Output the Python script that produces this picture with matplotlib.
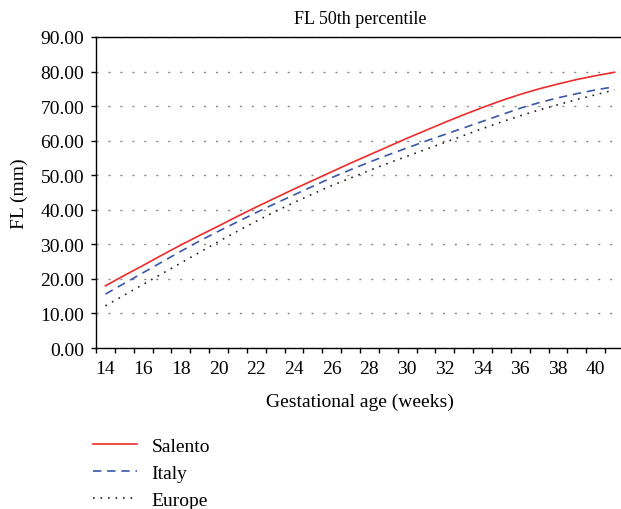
import matplotlib
matplotlib.use("Agg")
import matplotlib.pyplot as plt
from matplotlib.ticker import FixedLocator, FuncFormatter

plt.rcParams['font.family'] = ['Liberation Serif', 'DejaVu Serif']

weeks = list(range(14, 42))
salento = [18.0, 21.0, 23.9, 26.9, 29.8, 32.6, 35.3, 38.1, 40.8, 43.4,
           46.0, 48.5, 51.0, 53.5, 55.9, 58.3, 60.7, 63.0, 65.3, 67.5,
           69.6, 71.6, 73.4, 75.0, 76.4, 77.7, 78.8, 79.8]
italy = [15.6, 18.7, 21.8, 24.9, 28.0, 31.0, 33.8, 36.5, 39.2, 41.8,
         44.3, 46.8, 49.3, 51.6, 53.8, 55.9, 57.9, 59.9, 61.8, 63.7,
         65.6, 67.5, 69.4, 71.0, 72.4, 73.6, 74.7, 75.6]
europe = [12.2, 15.3, 18.4, 21.5, 24.6, 27.7, 30.8, 33.8, 36.7, 39.5,
          42.1, 44.6, 47.0, 49.2, 51.4, 53.5, 55.5, 57.5, 59.5, 61.5,
          63.5, 65.4, 67.2, 68.9, 70.4, 71.9, 73.3, 74.7]
y_ticks = [0, 10, 20, 30, 40, 50, 60, 70, 80, 90]
x_labels = list(range(14, 41, 2))

W, H = 621, 510
fig = plt.figure(figsize=(W / 100, H / 100), dpi=100)
ax = fig.add_axes([96 / W, (H - 349) / H, (624 - 96) / W, (349 - 38) / H])

l1, = ax.plot(weeks, salento, color='#ee2b2b', lw=1.2, label='Salento')
l2, = ax.plot(weeks, italy, color='#3a57a8', lw=1.2, ls=(0, (5, 3.5)), label='Italy')
l3, = ax.plot(weeks, europe, color='#222222', lw=1.2, ls=(0, (1, 3.5)), label='Europe')

ax.set_xlim(13.5, 41.5)
ax.set_ylim(0, 90)

# category-style x axis: ticks between categories, labels at centers
ax.xaxis.set_major_locator(FixedLocator([w - 0.5 for w in weeks]))
ax.xaxis.set_major_formatter(FuncFormatter(lambda v, p: ''))
ax.xaxis.set_minor_locator(FixedLocator(x_labels))
ax.xaxis.set_minor_formatter(FuncFormatter(lambda v, p: f'{int(round(v))}'))
ax.tick_params(axis='x', which='major', direction='out', length=3.5, width=1, color='black')
ax.tick_params(axis='x', which='minor', length=0, pad=9, labelsize=14)

ax.set_yticks(y_ticks)
ax.yaxis.set_major_formatter(FuncFormatter(lambda v, p: f'{v:.2f}'))
ax.tick_params(axis='y', direction='out', length=3.5, width=1, pad=5, labelsize=14)

ax.grid(axis='y', color='#888888', lw=1.0, ls=(0, (1.5, 7.1)))
ax.set_axisbelow(True)

for s in ax.spines.values():
    s.set_color('black')
    s.set_linewidth(1.0)
ax.spines['right'].set_visible(False)

ax.set_title('FL 50th percentile', fontsize=13, pad=10)
ax.set_xlabel('Gestational age (weeks)', fontsize=14, labelpad=11)
ax.set_ylabel('FL (mm)', fontsize=14, labelpad=9)

fig.legend(handles=[l1, l2, l3], loc='upper left',
           bbox_to_anchor=(93 / W, (H - 438) / H), frameon=False,
           fontsize=14, handlelength=2.25, handletextpad=0.75,
           labelspacing=0.5, borderpad=0, borderaxespad=0)

fig.savefig('out.png', dpi=100)
